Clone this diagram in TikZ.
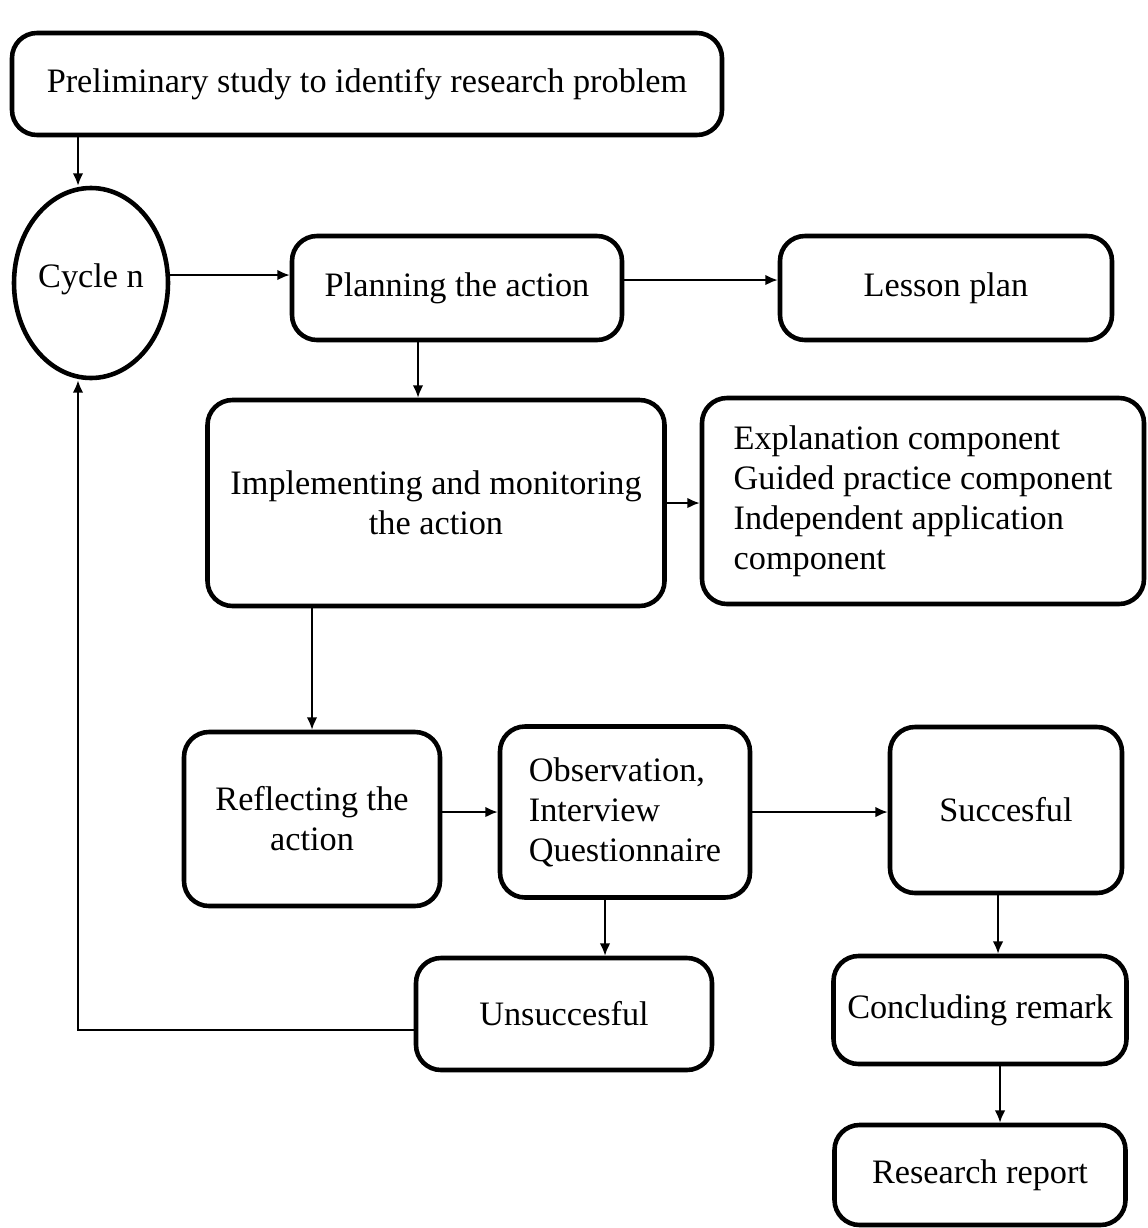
\documentclass[tikz,border=0pt]{standalone}
\usepackage{fontspec}
\setmainfont{Liberation Serif}
\usetikzlibrary{shapes, positioning, arrows.meta}

\tikzset{
	blk/.style={draw, line width=2.6pt, rounded corners=0.5cm, align=center, font=\fontsize{19.5}{22.7}\selectfont},
	link/.style={->, line width=1.1pt}
}

\begin{document}
\begin{tikzpicture}[scale=1, >={Latex[length=7pt,width=6pt]}]
		\useasboundingbox (0,0) rectangle (22.96,-24.56); % Page
		% Boxes
		\node[blk, minimum width=14.2cm, minimum height=2.04cm] (prelim) at (7.34,-1.68) {Preliminary study to identify research problem};
		\node[blk, ellipse, rounded corners=0pt, minimum width=3.08cm, minimum height=3.8cm, inner sep=0pt] (cyc) at (1.82,-5.66) {Cycle n\\[-0.5cm]};
		\node[blk, minimum width=6.6cm, minimum height=2.08cm] (plan) at (9.14,-5.76) {Planning the action};
		\node[blk, minimum width=6.64cm, minimum height=2.08cm] (lesson) at (18.92,-5.76) {Lesson plan};
		\node[blk, minimum width=9.14cm, minimum height=4.12cm] (impl) at (8.72,-10.06) {Implementing and monitoring\\the action};
		\node[blk, align=left, minimum width=8.84cm, minimum height=4.12cm] (expl) at (18.46,-10.02) {Explanation component\\Guided practice component\\Independent application\\component};
		\node[blk, minimum width=5.12cm, minimum height=3.48cm] (refl) at (6.24,-16.38) {Reflecting the\\action};
		\node[blk, align=left, minimum width=5.0cm, minimum height=3.42cm] (obs) at (12.5,-16.24) {Observation,\\Interview\\Questionnaire};
		\node[blk, minimum width=4.64cm, minimum height=3.32cm] (succ) at (20.12,-16.2) {Succesful};
		\node[blk, minimum width=5.92cm, minimum height=2.24cm] (unsucc) at (11.28,-20.28) {Unsuccesful};
		\node[blk, minimum width=5.86cm, minimum height=2.16cm] (concl) at (19.6,-20.2) {Concluding remark};
		\node[blk, minimum width=5.82cm, minimum height=2.0cm] (report) at (19.6,-23.5) {Research report};

		% Arrows
		\draw[link] ([xshift=-0.26cm]cyc.north |- prelim.south) -- ([xshift=-0.26cm]cyc.north);
		\draw[link] ([yshift=0.16cm]cyc.east) -- ([yshift=0.16cm]cyc.east -| plan.west);
		\draw[link] ([yshift=0.16cm]plan.east) -- ([yshift=0.16cm]plan.east -| lesson.west);
		\draw[link] ([xshift=-0.78cm]plan.south) -- ([xshift=-0.78cm]plan.south |- impl.north);
		\draw[link] (impl.east) -- (impl.east -| expl.west);
		\draw[link] (refl.north |- impl.south) -- (refl.north);
		\draw[link] (obs.west -| refl.east) -- (obs.west);
		\draw[link] (obs.east) -- (obs.east -| succ.west);
		\draw[link] ([xshift=-0.4cm]obs.south) -- ([xshift=-0.4cm]obs.south |- unsucc.north);
		\draw[link] ([yshift=-0.32cm]unsucc.west) -| ([xshift=-0.26cm]cyc.south); % Back to next cycle
		\draw[link] ([xshift=-0.16cm]succ.south) -- ([xshift=-0.16cm]succ.south |- concl.north);
		\draw[link] ([xshift=0.4cm]concl.south) -- ([xshift=0.4cm]concl.south |- report.north);
	\end{tikzpicture}
\end{document}
